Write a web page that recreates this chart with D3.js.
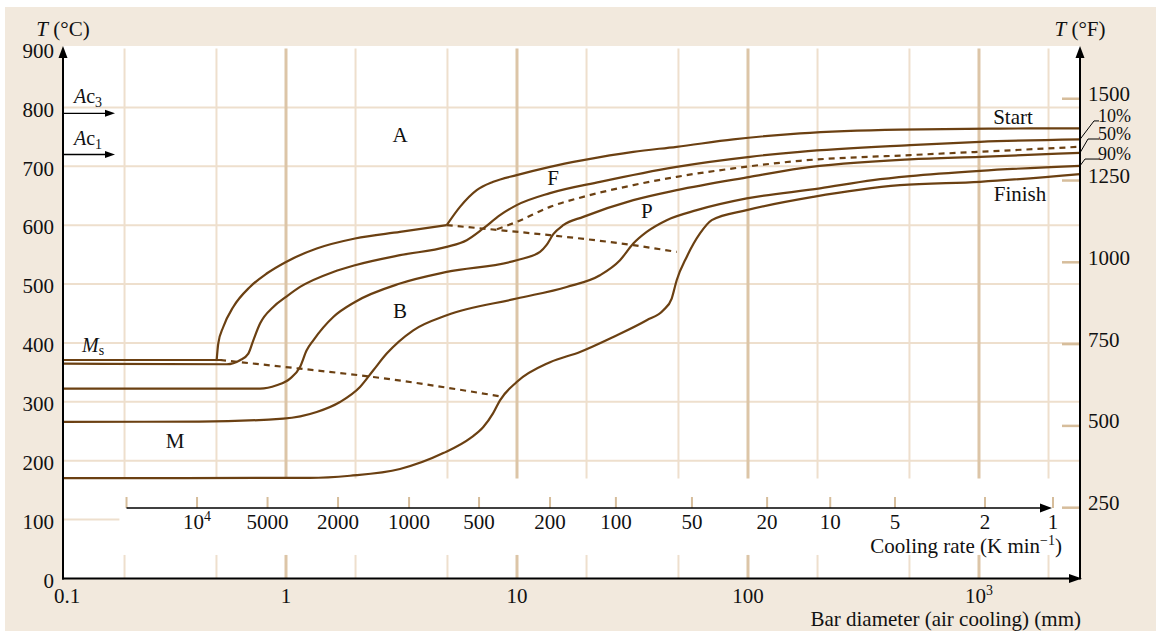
<!DOCTYPE html>
<html>
<head>
<meta charset="utf-8">
<script src="https://cdn.jsdelivr.net/npm/d3@7"></script>
<style>
  body { margin: 0; background: #fff; }
  svg text { font-family: "Liberation Serif", "Times New Roman", serif; fill: #111; }
</style>
</head>
<body>
<svg id="chart" width="1156" height="634"></svg>
<script>
// ---- Axes ----
const tempTicksC = [0, 100, 200, 300, 400, 500, 600, 700, 800, 900];
const tempTicksF = [250, 500, 750, 1000, 1250, 1500];
const gridTempsC = [100, 200, 300, 400, 500, 600, 700, 800];

// Bar diameter (mm), logarithmic
const diamTicks = [0.1, 1, 10, 100, 1000];
const diamTickLabels = ["0.1", "1", "10", "100", "10^3"];
const diamGrid = [0.2, 0.5, 1, 2, 5, 10, 20, 50, 100, 200, 500, 1000, 2000];
const diamMajor = [1, 10, 100, 1000];

// Cooling rate (K/min) and the bar diameter (mm) it corresponds to in air
const coolingRates = [20000, 10000, 5000, 2000, 1000, 500, 200, 100, 50, 20, 10, 5, 2, 1];
const coolingRateLabels = ["", "10^4", "5000", "2000", "1000", "500", "200", "100", "50", "20", "10", "5", "2", "1"];
const coolingRateDiam = [0.204, 0.412, 0.832, 1.68, 3.41, 6.85, 13.9, 26.8, 57.2, 121, 227, 433, 1062, 2091];

// ---- Critical temperatures (°C) ----
const ac3Temp = 790;
const ac1Temp = 720;
const msTemp = 371;

// ---- Transformation curves: [bar diameter mm, temperature °C] ----
const startCurve = [[0.501, 371], [0.509, 398.9], [0.535, 427.1], [0.591, 461.1], [0.698, 495.1], [0.825, 517.9],
  [1.0, 537.6], [1.358, 560.4], [1.99, 577.4], [3.115, 588.6], [4.963, 600]];
const ferriteStart = [[4.963, 600], [5.665, 631.1], [6.693, 659.5], [7.896, 673.6], [9.97, 685], [13.9, 699.1],
  [19.36, 710.5], [31.88, 724.6], [49.13, 733.1], [86.39, 745.7], [167.9, 755.9], [455, 762.4], [1233, 764], [2736, 764.4]];
const curve10 = [[0.1083, 364.9], [0.554, 363.8], [0.632, 370.6], [0.687, 381.9], [0.722, 404.5], [0.772, 432.9],
  [0.881, 461.1], [1.0, 478.1], [1.15, 495.1], [1.602, 520.6], [1.99, 532], [3.115, 549], [4.963, 563.1],
  [6.058, 574.5], [7.147, 594.4], [8.442, 617], [9.97, 634], [13.9, 654.4], [22.87, 673.6], [49.13, 699.1],
  [102, 716.1], [167.9, 724.6], [502.9, 736], [1010, 741.6], [2736, 745.7]];
const curve50 = [[8.19, 593.2], [9.97, 605.6], [13.9, 631.1], [19.36, 648.1], [31.88, 668], [49.13, 682.1],
  [86.39, 696.4], [167.9, 709.3], [502.9, 719], [1010, 724.6], [2736, 733.1]];
const curve90 = [[0.1083, 322.4], [0.772, 322.4], [0.911, 328.1], [1.041, 339.4], [1.15, 359.2], [1.229, 387.5],
  [1.313, 404.5], [1.602, 444.1], [1.99, 469.6], [3.115, 500.9], [4.963, 520.6], [9.97, 540.5], [12.58, 554.6],
  [13.41, 566], [14.36, 584.7], [15.86, 600], [19.36, 614.1], [31.88, 642.5], [49.13, 659.5], [102, 682.1],
  [167.9, 696.4], [502.9, 711.7], [1010, 716.1], [2736, 722.9]];
const pearliteCurve = [[0.1083, 266], [0.42, 266.5], [0.973, 271.5], [1.358, 282.7], [1.713, 299.7], [2.091, 325.2],
  [2.388, 353.6], [2.729, 381.9], [3.557, 421.5], [4.963, 447], [9.97, 475.4], [16.41, 495.1], [22.87, 515],
  [27.92, 540.5], [31.88, 568.9], [36.43, 588.6], [44.46, 608.5], [59.97, 625.5], [98.72, 645.4], [205, 662.4],
  [347.6, 676.5], [502.9, 683.3], [1010, 692.3], [2736, 700.8]];
const finishCurve = [[0.1083, 170.5], [1.27, 170.8], [1.893, 174.5], [3.115, 186], [4.797, 213], [6.26, 238],
  [7.147, 257.2], [7.873, 280.5], [8.442, 302.6], [9.97, 333.7], [13.9, 367.2], [18.74, 384.7], [26.12, 410.2],
  [36.43, 438.5], [42.98, 455.5], [46.74, 475.4], [49.13, 506.5], [54.28, 546.1], [61.98, 585.9], [69.66, 608.5],
  [98.72, 625.5], [191.7, 648.1], [455, 668], [1010, 673.6], [2736, 686.7]];
const msLine = [[0.1083, msTemp], [0.53, msTemp]];
const ferriteBoundary = [[4.963, 600], [8.442, 591.5], [13.9, 583], [31.88, 566], [49.13, 554.6]];
const msBoundary = [[0.518, 371], [1.15, 356.4], [2.388, 342.2], [8.442, 309.4]];

// Phase field labels
const regionNames = ["A", "F", "P", "B", "M"];
const regionDiam = [3.115, 14.32, 36.5, 3.115, 0.331];
const regionTemp = [753, 680, 624, 454, 233];

// Fraction labels at the right-hand end of the curves
const fractionNames = ["10%", "50%", "90%"];
const fractionCurveEnd = [745.7, 722.9, 700.8];
const fractionLabelTemp = [777, 746.3, 712.3];

// ---- Layout ----
const svg = d3.select("#chart");
const x0 = 63, x1 = 1080, plotTop = 46;
const x = d3.scaleLog().domain([0.1083, 2737]).range([x0, x1]);
const y = d3.scaleLinear().domain([0, 900]).range([578.5, 48.5]);
const yF = d3.scaleLinear().domain([32, 32 + 900 * 1.8]).range(y.range());
const bandDiam = 0.19, bandLow = 40, bandHigh = 170;   // strip holding the cooling-rate scale

const ink = "#6b4012";
const gridMinor = "#eedfcd";
const gridMajor = "#dcc5a7";
const tickTan = "#d6bd9b";
const fs = 21;

svg.append("rect").attr("x", 5).attr("y", 7).attr("width", 1151).attr("height", 624).attr("fill", "#f2e9dd");
svg.append("rect").attr("x", x0).attr("y", plotTop).attr("width", x1 - x0).attr("height", y(0) - plotTop).attr("fill", "#fff");

// Grid
const grid = svg.append("g");
grid.selectAll("line.h").data(gridTempsC).join("line")
  .attr("x1", x0)
  .attr("x2", t => (t > bandLow && t < bandHigh) ? x(bandDiam) : x1)
  .attr("y1", t => y(t)).attr("y2", t => y(t))
  .attr("stroke", gridMinor).attr("stroke-width", 2);
[[bandHigh, 900], [0, bandLow]].forEach(([lo, hi]) => {
  grid.selectAll(null).data(diamGrid).join("line")
    .attr("x1", d => x(d)).attr("x2", d => x(d))
    .attr("y1", y(lo)).attr("y2", Math.max(y(hi), plotTop))
    .attr("stroke", d => diamMajor.includes(d) ? gridMajor : gridMinor)
    .attr("stroke-width", d => diamMajor.includes(d) ? 3 : 2);
});

// Helpers
function arrowHead(g, tipX, tipY, dir, len, half) {
  let p;
  if (dir === "up") p = [[tipX, tipY], [tipX - half, tipY + len], [tipX + half, tipY + len]];
  else p = [[tipX, tipY], [tipX - len, tipY - half], [tipX - len, tipY + half]];
  g.append("path").attr("d", "M" + p.join("L") + "Z").attr("fill", "#000");
}
function supText(g, label, px, py, anchor, size) {
  const t = g.append("text").attr("x", px).attr("y", py).attr("text-anchor", anchor).attr("font-size", size);
  const parts = label.split("^");
  t.append("tspan").text(parts[0]);
  if (parts[1]) t.append("tspan").attr("dy", -8).attr("font-size", size * 0.66).text(parts[1]);
  return t;
}

// Curves
const line = d3.line().x(d => x(d[0])).y(d => y(d[1])).curve(d3.curveMonotoneX);
const curves = svg.append("g").attr("fill", "none").attr("stroke", ink).attr("stroke-width", 2.2);
[msLine, startCurve, ferriteStart, curve10, curve90, pearliteCurve, finishCurve].forEach(c =>
  curves.append("path").attr("d", line(c)));
[curve50, ferriteBoundary, msBoundary].forEach(c =>
  curves.append("path").attr("d", line(c)).attr("stroke-dasharray", "6,5"));

// Left temperature axis (°C)
const gL = svg.append("g").attr("transform", `translate(${x0},0)`)
  .call(d3.axisLeft(y).tickValues(tempTicksC).tickSize(0).tickPadding(9).tickFormat(d3.format("d")));
gL.select(".domain").remove();
gL.attr("font-size", fs).attr("font-family", null);
gL.selectAll("text").attr("fill", "#111").attr("dy", "0.42em");

// Right temperature axis (°F)
const gR = svg.append("g").attr("transform", `translate(${x1},0)`)
  .call(d3.axisRight(yF).tickValues(tempTicksF).tickSizeInner(-18).tickSizeOuter(0).tickPadding(8).tickFormat(d3.format("d")));
gR.select(".domain").remove();
gR.attr("font-size", fs).attr("font-family", null);
gR.selectAll("line").attr("stroke", tickTan).attr("stroke-width", 2.5);
gR.selectAll("text").attr("fill", "#111").attr("dy", "0.12em");

// Axis lines and arrows
const axes = svg.append("g");
axes.append("line").attr("x1", x0).attr("x2", x0).attr("y1", y(0) + 1).attr("y2", 56).attr("stroke", "#000").attr("stroke-width", 2);
arrowHead(axes, x0, 46, "up", 12, 4.5);
axes.append("line").attr("x1", x1).attr("x2", x1).attr("y1", y(0) + 1).attr("y2", 56).attr("stroke", "#000").attr("stroke-width", 2);
arrowHead(axes, x1, 46, "up", 12, 4.5);
axes.append("line").attr("x1", x0 - 1).attr("x2", x1 - 6).attr("y1", y(0)).attr("y2", y(0)).attr("stroke", "#000").attr("stroke-width", 2);
arrowHead(axes, x1 + 2, y(0), "right", 13, 4.5);

// Cooling-rate scale
const coolY = 508;
const gC = svg.append("g");
gC.selectAll("line").data(coolingRateDiam).join("line")
  .attr("x1", d => x(d)).attr("x2", d => x(d)).attr("y1", coolY - 11).attr("y2", coolY)
  .attr("stroke", tickTan).attr("stroke-width", 2);
gC.append("line").attr("x1", x(coolingRateDiam[0])).attr("x2", x(coolingRateDiam[coolingRateDiam.length - 1]) - 8)
  .attr("y1", coolY).attr("y2", coolY).attr("stroke", "#000").attr("stroke-width", 1.6);
arrowHead(gC, x(coolingRateDiam[coolingRateDiam.length - 1]) - 1, coolY, "right", 12, 4.5);
coolingRateLabels.forEach((lab, i) => {
  if (lab) supText(gC, lab, x(coolingRateDiam[i]), coolY + 21, "middle", fs);
});
const cr = gC.append("text").attr("x", 1062).attr("y", 553).attr("text-anchor", "end").attr("font-size", fs);
cr.append("tspan").text("Cooling rate (K min");
cr.append("tspan").attr("dy", -8).attr("font-size", 14).text("\u22121");
cr.append("tspan").attr("dy", 8).text(")");

// Bar diameter labels
const gB = svg.append("g");
diamTicks.forEach((d, i) => {
  supText(gB, diamTickLabels[i], Math.max(x(d), x0 + 4), 603, "middle", fs);
});
gB.append("text").attr("x", 1081).attr("y", 626).attr("text-anchor", "end").attr("font-size", fs)
  .text("Bar diameter (air cooling) (mm)");

// Axis titles
[[x0, "°C"], [x1, "°F"]].forEach(([px, unit]) => {
  const t = svg.append("text").attr("x", px).attr("y", 36).attr("text-anchor", "middle").attr("font-size", fs);
  t.append("tspan").attr("font-style", "italic").text("T");
  t.append("tspan").text(" (" + unit + ")");
});

// Ac3 / Ac1 markers
[[ac3Temp, "3"], [ac1Temp, "1"]].forEach(([t, sub]) => {
  const g = svg.append("g");
  g.append("line").attr("x1", x0).attr("x2", 108).attr("y1", y(t)).attr("y2", y(t)).attr("stroke", "#000").attr("stroke-width", 1.3);
  arrowHead(g, 115, y(t), "right", 10, 3.5);
  const lab = g.append("text").attr("x", 74).attr("y", y(t) - 10).attr("font-size", 20);
  lab.append("tspan").attr("font-style", "italic").text("A");
  lab.append("tspan").text("c");
  lab.append("tspan").attr("dy", 4).attr("font-size", 14).text(sub);
});

// Ms label
const ms = svg.append("text").attr("x", 82).attr("y", y(msTemp) - 8).attr("font-size", 20);
ms.append("tspan").attr("font-style", "italic").text("M");
ms.append("tspan").attr("dy", 3).attr("font-size", 14).text("s");

// Phase fields
svg.append("g").selectAll("text").data(regionNames).join("text")
  .attr("x", (d, i) => x(regionDiam[i])).attr("y", (d, i) => y(regionTemp[i]) + 7)
  .attr("text-anchor", "middle").attr("font-size", fs).text(d => d);

// Start / Finish and fraction labels
svg.append("text").attr("x", 1013).attr("y", 124).attr("text-anchor", "middle").attr("font-size", fs).text("Start");
svg.append("text").attr("x", 1020).attr("y", 201).attr("text-anchor", "middle").attr("font-size", fs).text("Finish");
const gF = svg.append("g");
fractionNames.forEach((name, i) => {
  const ye = y(fractionCurveEnd[i]), yl = y(fractionLabelTemp[i]);
  const kx = x1 + [14, 8, 5][i];
  gF.append("path").attr("d", `M${x1},${ye}L${kx},${yl}L${x1 + 19},${yl}`)
    .attr("fill", "none").attr("stroke", "#000").attr("stroke-width", 1);
  gF.append("text").attr("x", x1 + 18).attr("y", yl + 1).attr("font-size", 18).text(name);
});
</script>
</body>
</html>
